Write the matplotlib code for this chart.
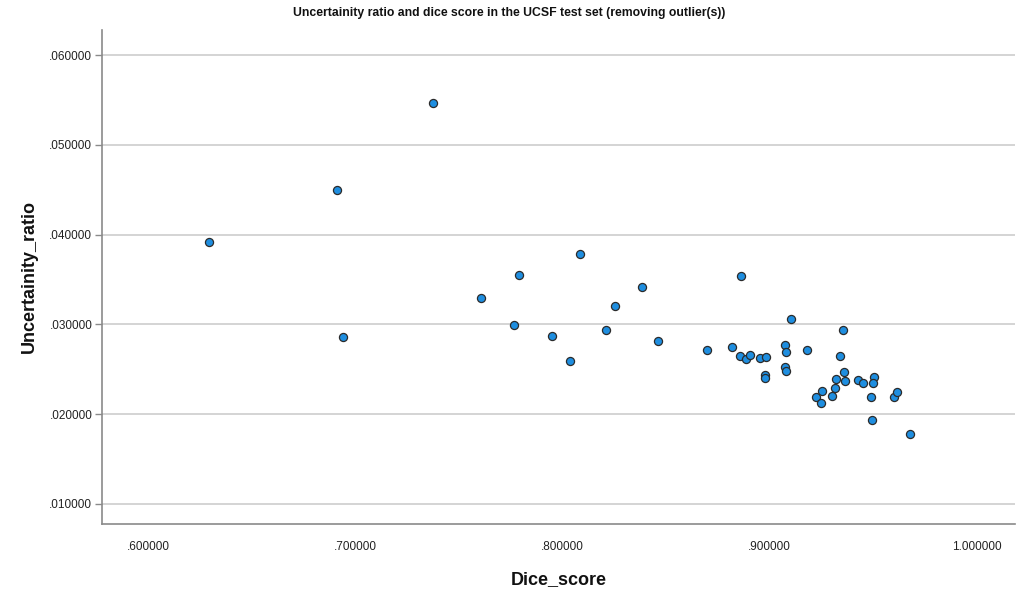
import matplotlib
matplotlib.use("Agg")
import matplotlib.pyplot as plt
from matplotlib.ticker import FixedLocator, FuncFormatter

dice_score = [0.6293, 0.6913, 0.6942, 0.7375, 0.7606, 0.7764, 0.7788, 0.7947, 0.8034, 0.8082,
              0.8212, 0.8255, 0.8385, 0.8462, 0.8697, 0.8817, 0.8856, 0.8861, 0.8885, 0.8904,
              0.8952, 0.8981, 0.8976, 0.8976, 0.9072, 0.9077, 0.9072, 0.9077, 0.9101, 0.9178,
              0.9221, 0.9245, 0.9250, 0.9298, 0.9317, 0.9322, 0.9341, 0.9351, 0.9356, 0.9361,
              0.9428, 0.9452, 0.9505, 0.9500, 0.9490, 0.9495, 0.9601, 0.9615, 0.9678]
uncertainty_ratio = [0.03913, 0.04493, 0.02864, 0.05464, 0.03299, 0.02998, 0.03556, 0.02875, 0.02596, 0.03790,
                     0.02942, 0.03210, 0.03422, 0.02819, 0.02719, 0.02752, 0.02652, 0.03545, 0.02618, 0.02663,
                     0.02629, 0.02641, 0.02440, 0.02406, 0.02775, 0.02696, 0.02529, 0.02484, 0.03065, 0.02719,
                     0.02194, 0.02127, 0.02261, 0.02205, 0.02295, 0.02395, 0.02652, 0.02942, 0.02473, 0.02373,
                     0.02384, 0.02350, 0.02417, 0.02350, 0.02194, 0.01938, 0.02194, 0.02250, 0.01781]
x_ticks = [0.6, 0.7, 0.8, 0.9, 1.0]
y_ticks = [0.01, 0.02, 0.03, 0.04, 0.05, 0.06]
title = "Uncertainity ratio and dice score in the UCSF test set (removing outlier(s))"

def fmt(v, pos=None):
    s = "%.6f" % v
    if s.startswith("0"):
        s = s[1:]
    return s

fig = plt.figure(figsize=(10.18, 5.93), dpi=100)
ax = fig.add_axes([0.1002, 0.1164, 0.897, 0.833])

ax.scatter(dice_score, uncertainty_ratio, s=34, c="#1e8ee0", edgecolors="#2b2b2b",
           linewidths=0.9, zorder=3)

ax.set_xlim(0.5778, 1.0184)
ax.set_ylim(0.00777, 0.0628)
ax.xaxis.set_major_locator(FixedLocator(x_ticks))
ax.yaxis.set_major_locator(FixedLocator(y_ticks))
ax.xaxis.set_major_formatter(FuncFormatter(fmt))
ax.yaxis.set_major_formatter(FuncFormatter(fmt))

ax.grid(axis="y", color="#d4d4d4", linewidth=1.4, zorder=0)
for s in ["top", "right"]:
    ax.spines[s].set_visible(False)
for s in ["left", "bottom"]:
    ax.spines[s].set_color("#8a8a8a")
    ax.spines[s].set_linewidth(1.2)

tick_font = ["Liberation Sans", "DejaVu Sans"]
ax.tick_params(axis="y", length=5, color="#8a8a8a", width=1.0, pad=2, labelsize=8.5)
ax.tick_params(axis="x", length=0, pad=12, labelsize=8.5)
for lab in ax.get_xticklabels() + ax.get_yticklabels():
    lab.set_family(tick_font)
    lab.set_color("#222222")

ax.set_xlabel("Dice_score", fontsize=13, fontweight="bold", family=tick_font,
              labelpad=13, color="#111111")
ax.set_ylabel("Uncertainity_ratio", fontsize=13, fontweight="bold", family=tick_font,
              labelpad=8, color="#111111")

fig.text(0.5, 0.978, title, ha="center", va="center", fontsize=8.8, fontweight="bold",
         family=tick_font, color="#111111")

fig.savefig("out.png", dpi=100)
